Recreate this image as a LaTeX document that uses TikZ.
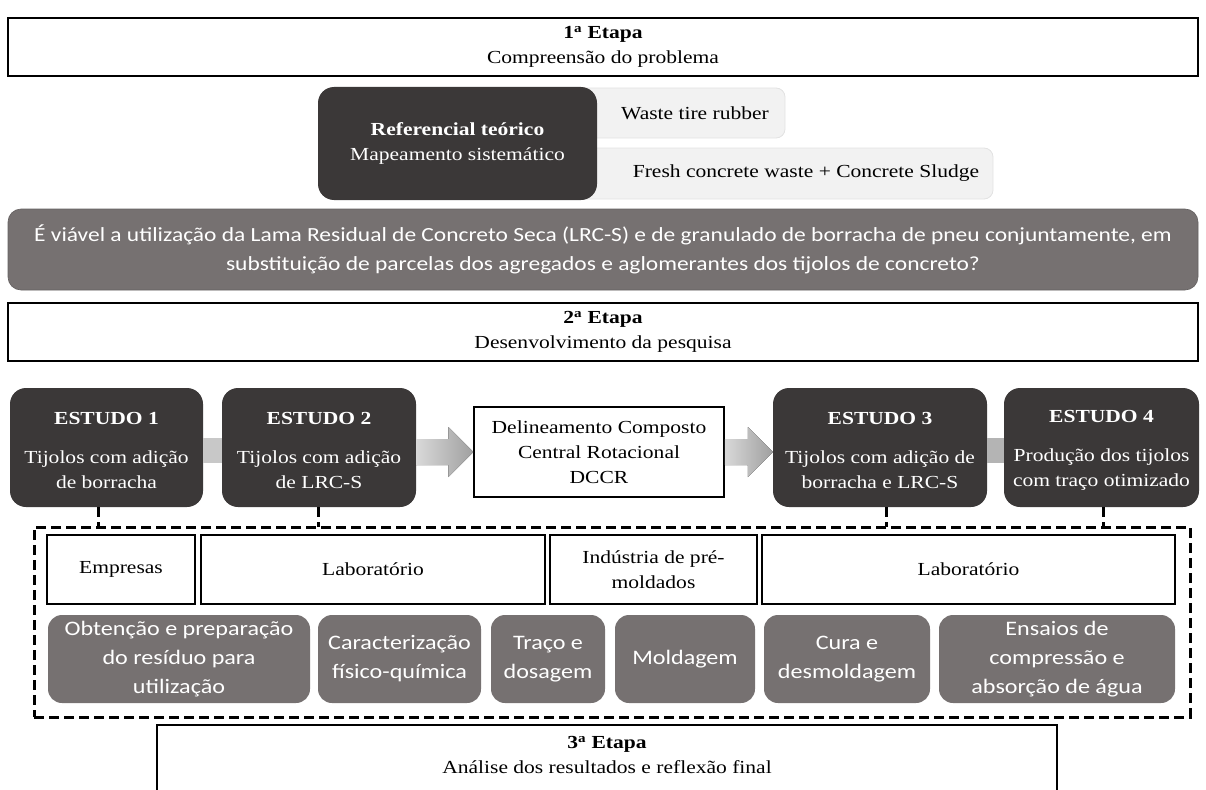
\documentclass[tikz,border=0pt]{standalone}
\usepackage{fontspec}
\setmainfont{Liberation Serif}[FakeStretch=1.17]
\newfontfamily\calfont{Carlito}[FakeStretch=1.17]
\usetikzlibrary{calc,shadings}
\definecolor{darkbox}{HTML}{3B3838}
\definecolor{graybox}{HTML}{767171}
\definecolor{lightbox}{HTML}{F2F2F2}
\definecolor{lightborder}{HTML}{E2E2E2}
\definecolor{bandgray}{HTML}{C8C8C8}
\newcommand\tnr{\fontsize{18.4}{25}\selectfont}
\newcommand\calsz{\calfont\fontsize{20.05}{29.5}\selectfont}
\newcommand\procsz{\calfont\fontsize{20.6}{29}\selectfont}
\newcommand\topstrut{\rule{0pt}{18pt}}
\tikzset{
  etapa/.style={draw=black, line width=1.5pt, fill=white, minimum width=1190pt,
    minimum height=58pt, align=center, font=\tnr, inner sep=0pt},
  darkbx/.style={fill=darkbox, rounded corners=16pt, text=white, align=center,
    font=\tnr, inner sep=0pt},
  lightbx/.style={fill=lightbox, draw=lightborder, line width=0.8pt, rounded corners=9pt, inner sep=0pt},
  plaintxt/.style={font=\tnr, align=center, inner sep=0pt},
  qbox/.style={fill=graybox, draw=graybox!85!black, line width=0.6pt, rounded corners=13pt,
    text=white, align=center, font=\calsz, inner sep=0pt},
  whitebx/.style={draw=black, line width=1.3pt, fill=white, minimum height=69pt,
    align=center, font=\tnr, inner sep=0pt},
  procbx/.style={fill=graybox, rounded corners=14pt, minimum height=88pt, text=white,
    align=center, font=\procsz, inner sep=0pt},
  dccrbx/.style={draw=black, line width=1.5pt, fill=white, align=center, font=\tnr, inner sep=0pt},
  framebx/.style={draw=black, line width=3pt, dash pattern=on 10pt off 5pt, inner sep=0pt},
  conn/.style={draw=black, line width=3pt, dash pattern=on 10pt off 5pt},
  arrowshade/.style={left color=gray!30, right color=gray!75},
}
\begin{document}
\begin{tikzpicture}[x=1pt,y=-1pt]
\useasboundingbox (0,0) rectangle (1206,789);

% 1st stage
\node[etapa] (s1) at (603,47) {{\bfseries 1\textsuperscript{a} Etapa}\\Compreensão do problema};

% theoretical reference
\node[lightbx, minimum width=230pt, minimum height=50pt] (w1) at (670,113) {};
\node[plaintxt] (w1t) at (695,113) {Waste tire rubber};
\node[lightbx, minimum width=438pt, minimum height=51pt] (w2) at (774,173.5) {};
\node[plaintxt] (w2t) at (806,173.5) {Fresh concrete waste + Concrete Sludge};
\node[darkbx, minimum width=279pt, minimum height=113pt] (ref) at (457.5,143.5)
  {{\bfseries Referencial teórico}\\Mapeamento sistemático};

% question
\node[qbox, minimum width=1190pt, minimum height=81pt] (q) at (603,249.5)
  {É viável a utilização da Lama Residual de Concreto Seca (LRC-S) e de granulado de borracha de pneu conjuntamente, em\\
   substituição de parcelas dos agregados e aglomerantes dos tijolos de concreto?};

% 2nd stage
\node[etapa] (s2) at (603,332) {{\bfseries 2\textsuperscript{a} Etapa}\\Desenvolvimento da pesquisa};

% studies
\node[darkbx, minimum width=193pt, minimum height=119pt] (e1) at (106.5,447.5)
  {{\topstrut\bfseries ESTUDO 1}\\[14pt]Tijolos com adição\\de borracha};
\node[darkbx, minimum width=194pt, minimum height=119pt] (e2) at (319,447.5)
  {{\topstrut\bfseries ESTUDO 2}\\[14pt]Tijolos com adição\\de LRC-S};
\node[dccrbx, minimum width=250pt, minimum height=90pt] (dccr) at (599,452)
  {Delineamento Composto\\Central Rotacional\\DCCR};
\node[darkbx, minimum width=214pt, minimum height=119pt] (e3) at (880,447.5)
  {{\topstrut\bfseries ESTUDO 3}\\[14pt]Tijolos com adição de\\borracha e LRC-S};
\node[darkbx, minimum width=195pt, minimum height=119pt] (e4) at (1101.5,447.5)
  {{\topstrut\bfseries ESTUDO 4}\\[14pt]Produção dos tijolos\\com traço otimizado};

% bands and arrows
\fill[bandgray] ($(e1.east)+(0,-10)$) rectangle ($(e2.west)+(0,15)$);
\fill[bandgray!90!black] ($(e3.east)+(0,-10)$) rectangle ($(e4.west)+(0,15)$);
\coordinate (a1s) at (e2.east |- dccr.west);
\fill[arrowshade] ($(a1s)+(0,-13)$) -- ($(dccr.west)+(-25,-13)$) -- ($(dccr.west)+(-25,-25)$)
  -- (dccr.west) -- ($(dccr.west)+(-25,25)$) -- ($(dccr.west)+(-25,13)$) -- ($(a1s)+(0,13)$) -- cycle;
\coordinate (a2e) at (e3.west |- dccr.east);
\fill[arrowshade] ($(dccr.east)+(0,-13)$) -- ($(a2e)+(-25,-13)$) -- ($(a2e)+(-25,-25)$)
  -- (a2e) -- ($(a2e)+(-25,25)$) -- ($(a2e)+(-25,13)$) -- ($(dccr.east)+(0,13)$) -- cycle;

% dashed frame
\node[framebx, minimum width=1156pt, minimum height=190pt] (frame) at (612,622) {};
\coordinate (t1) at (98,527);
\coordinate (t2) at (318,527);
\coordinate (t3) at (886,527);
\coordinate (t4) at (1103,527);
\draw[conn] (e1.south -| t1) -- (t1);
\draw[conn] (e2.south -| t2) -- (t2);
\draw[conn] (e3.south -| t3) -- (t3);
\draw[conn] (e4.south -| t4) -- (t4);

% places
\node[whitebx, minimum width=148pt] (emp) at (121,569.5) {Empresas};
\node[whitebx, minimum width=344pt] (lab1) at (373,569.5) {Laboratório};
\node[whitebx, minimum width=207pt] (ind) at (653.5,569.5) {Indústria de pré-\\moldados};
\node[whitebx, minimum width=413pt] (lab2) at (968.5,569.5) {Laboratório};

% process steps
\node[procbx, minimum width=262pt] (p1) at (179,659) {Obtenção e preparação\\do resíduo para\\utilização};
\node[procbx, minimum width=163pt] (p2) at (399.5,659) {Caracterização\\físico-química};
\node[procbx, minimum width=114pt] (p3) at (548,659) {Traço e\\dosagem};
\node[procbx, minimum width=140pt] (p4) at (685,659) {Moldagem};
\node[procbx, minimum width=166pt] (p5) at (847,659) {Cura e\\desmoldagem};
\node[procbx, minimum width=236pt] (p6) at (1057,659) {Ensaios de\\compressão e\\absorção de água};

% 3rd stage
\node[etapa, minimum width=900pt, minimum height=80pt] (s3) at (607,765) {};
\node[plaintxt] (s3t) at (607,755) {{\bfseries 3\textsuperscript{a} Etapa}\\Análise dos resultados e reflexão final};
\end{tikzpicture}
\end{document}
